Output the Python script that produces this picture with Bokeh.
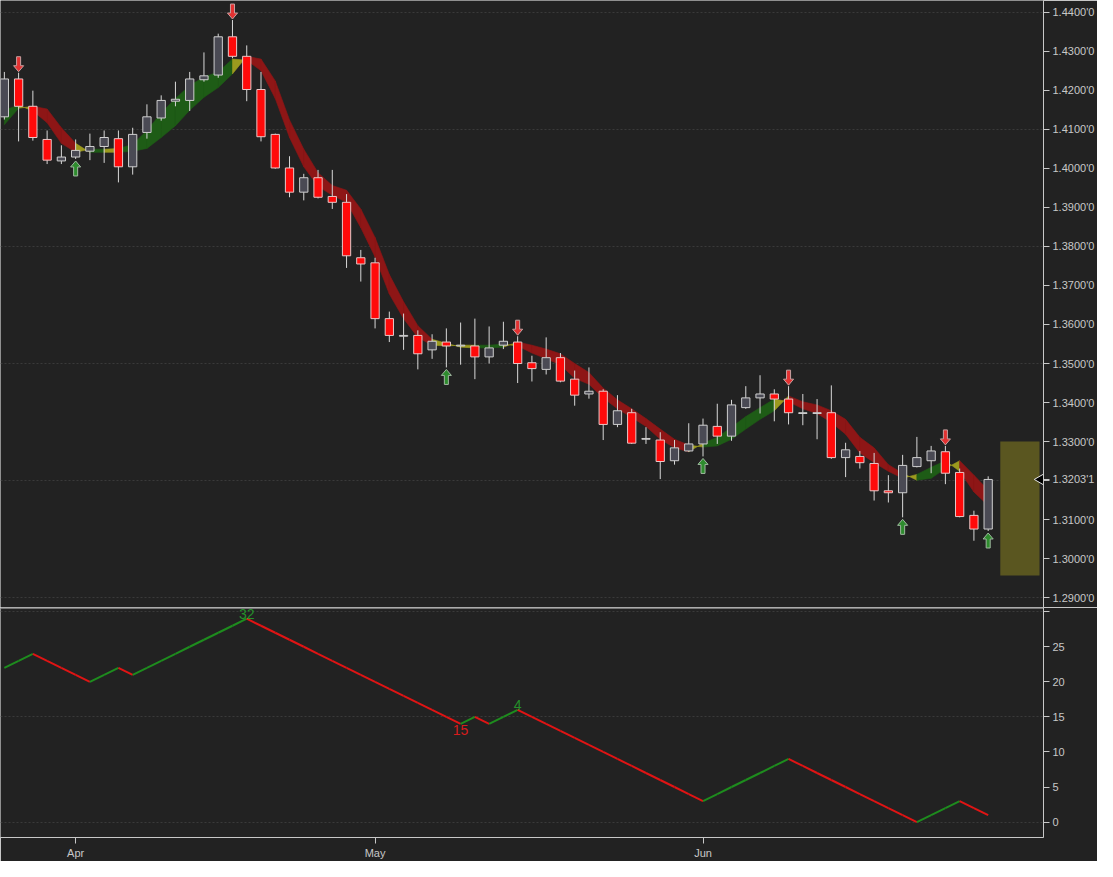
import pandas as pd
from bokeh.plotting import figure
from bokeh.layouts import column
from bokeh.models import FixedTicker, Range1d, Span
from bokeh.embed import file_html
from bokeh.resources import INLINE
from bokeh.core.properties import value

# ---------------- data ----------------
dates = pd.bdate_range("2018-03-26", "2018-06-29")

opens = [1.4132, 1.4229, 1.4159, 1.4074, 1.4019, 1.4029, 1.4044, 1.4056, 1.4076, 1.4004,
         1.4092, 1.4129, 1.4172, 1.4174, 1.4227, 1.4239, 1.4337, 1.4287, 1.4202, 1.4087,
         1.4001, 1.3939, 1.3976, 1.3928, 1.3913, 1.3771, 1.3758, 1.3615, 1.3570, 1.3572,
         1.3535, 1.3555, 1.3545, 1.3545, 1.3517, 1.3547, 1.3555, 1.3502, 1.3485, 1.3515,
         1.3460, 1.3422, 1.3429, 1.3344, 1.3374, 1.3306, 1.3304, 1.3251, 1.3276, 1.3294,
         1.3339, 1.3314, 1.3387, 1.3412, 1.3422, 1.3409, 1.3372, 1.3372, 1.3374, 1.3259,
         1.3262, 1.3244, 1.3174, 1.3169, 1.3236, 1.3251, 1.3274, 1.3221, 1.3111, 1.3076]
highs = [1.4247, 1.4245, 1.4199, 1.4097, 1.4059, 1.4074, 1.4089, 1.4097, 1.4097, 1.4104,
         1.4164, 1.4187, 1.4222, 1.4247, 1.4297, 1.4345, 1.4380, 1.4315, 1.4247, 1.4089,
         1.4031, 1.3986, 1.3996, 1.3996, 1.3934, 1.3791, 1.3771, 1.3633, 1.3628, 1.3585,
         1.3575, 1.3590, 1.3605, 1.3615, 1.3595, 1.3607, 1.3570, 1.3520, 1.3567, 1.3527,
         1.3482, 1.3490, 1.3434, 1.3419, 1.3384, 1.3337, 1.3324, 1.3304, 1.3347, 1.3359,
         1.3397, 1.3407, 1.3442, 1.3470, 1.3434, 1.3442, 1.3422, 1.3409, 1.3444, 1.3297,
         1.3276, 1.3271, 1.3214, 1.3266, 1.3312, 1.3289, 1.3289, 1.3231, 1.3123, 1.3211]
lows = [1.4125, 1.4069, 1.4071, 1.4011, 1.4011, 1.4024, 1.4021, 1.4014, 1.3964, 1.3984,
        1.4076, 1.4122, 1.4159, 1.4147, 1.4222, 1.4232, 1.4282, 1.4172, 1.4069, 1.3999,
        1.3926, 1.3918, 1.3923, 1.3896, 1.3745, 1.3710, 1.3590, 1.3555, 1.3535, 1.3485,
        1.3512, 1.3490, 1.3497, 1.3460, 1.3500, 1.3537, 1.3450, 1.3454, 1.3472, 1.3452,
        1.3392, 1.3410, 1.3304, 1.3337, 1.3294, 1.3294, 1.3204, 1.3241, 1.3274, 1.3262,
        1.3294, 1.3302, 1.3384, 1.3372, 1.3352, 1.3344, 1.3342, 1.3306, 1.3256, 1.3209,
        1.3231, 1.3149, 1.3144, 1.3106, 1.3234, 1.3219, 1.3191, 1.3106, 1.3046, 1.3071]
closes = [1.4229, 1.4159, 1.4079, 1.4021, 1.4029, 1.4046, 1.4056, 1.4079, 1.4004, 1.4087,
          1.4132, 1.4174, 1.4177, 1.4229, 1.4237, 1.4337, 1.4287, 1.4202, 1.4081, 1.4001,
          1.3939, 1.3976, 1.3926, 1.3913, 1.3776, 1.3755, 1.3615, 1.3572, 1.3572, 1.3525,
          1.3557, 1.3545, 1.3547, 1.3517, 1.3540, 1.3557, 1.3500, 1.3487, 1.3515, 1.3455,
          1.3419, 1.3429, 1.3344, 1.3379, 1.3296, 1.3308, 1.3249, 1.3284, 1.3294, 1.3342,
          1.3314, 1.3394, 1.3412, 1.3422, 1.3409, 1.3374, 1.3374, 1.3374, 1.3259, 1.3279,
          1.3246, 1.3174, 1.3169, 1.3239, 1.3259, 1.3276, 1.3219, 1.3108, 1.3076, 1.3203]

# ribbon: fast and slow lines
band_fast = [1.4149, 1.4162, 1.4147, 1.4117, 1.4064, 1.4041, 1.4049, 1.4049, 1.4051, 1.4061,
             1.4097, 1.4142, 1.4179, 1.4212, 1.4234, 1.4247, 1.4280, 1.4277, 1.4250, 1.4179,
             1.4079, 1.4004, 1.3954, 1.3931, 1.3913, 1.3848, 1.3773, 1.3678, 1.3615, 1.3567,
             1.3547, 1.3545, 1.3547, 1.3547, 1.3547, 1.3550, 1.3545, 1.3527, 1.3512, 1.3497,
             1.3462, 1.3447, 1.3412, 1.3384, 1.3362, 1.3339, 1.3306, 1.3284, 1.3274, 1.3296,
             1.3311, 1.3337, 1.3364, 1.3387, 1.3409, 1.3402, 1.3384, 1.3372, 1.3349, 1.3319,
             1.3271, 1.3246, 1.3224, 1.3206, 1.3216, 1.3234, 1.3251, 1.3224, 1.3171, 1.3136]
band_slow = [1.4112, 1.4154, 1.4159, 1.4152, 1.4104, 1.4064, 1.4041, 1.4041, 1.4041, 1.4044,
             1.4051, 1.4079, 1.4109, 1.4149, 1.4182, 1.4207, 1.4242, 1.4287, 1.4280, 1.4224,
             1.4124, 1.4049, 1.3989, 1.3956, 1.3944, 1.3896, 1.3823, 1.3728, 1.3658, 1.3597,
             1.3562, 1.3552, 1.3542, 1.3540, 1.3540, 1.3542, 1.3555, 1.3547, 1.3537, 1.3525,
             1.3500, 1.3477, 1.3437, 1.3407, 1.3384, 1.3359, 1.3332, 1.3306, 1.3291, 1.3286,
             1.3289, 1.3306, 1.3332, 1.3357, 1.3379, 1.3417, 1.3402, 1.3394, 1.3379, 1.3357,
             1.3311, 1.3284, 1.3241, 1.3219, 1.3201, 1.3206, 1.3231, 1.3251, 1.3214, 1.3176]
# trend of each ribbon segment: g = up, r = down, y = transition
band_trend = ("g" "y" "rrr" "y" "g" "y" "gggggggg" "y" "rrrrrrrrrrrrr" "yyy" "gg" "y"
              "rrrrrrrrrrrr" "y" "ggggg" "y" "rrrrrrrr" "y" "gg" "y" "rr")

sell_signals = [1, 16, 36, 55, 66]
buy_signals = [5, 31, 49, 63, 69]

counter = [22, 23, 24, 23, 22, 21, 20, 21, 22, 21, 22, 23, 24, 25, 26, 27, 28, 29, 28, 27,
           26, 25, 24, 23, 22, 21, 20, 19, 18, 17, 16, 15, 14, 15, 14, 15, 16, 15, 14, 13,
           12, 11, 10, 9, 8, 7, 6, 5, 4, 3, 4, 5, 6, 7, 8, 9, 8, 7, 6, 5,
           4, 3, 2, 1, 0, 1, 2, 3, 2, 1]
counter_pivots_up = [17, 36]
counter_pivot_up_text = ["32", "4"]
counter_pivots_dn = [32]
counter_pivot_dn_text = ["15"]

proj_box = {"left": 69.85, "right": 72.6, "top": 1.3300, "bottom": 1.2957}
last_price_text = "1.3203'1"
price_ticks = [round(1.29 + 0.01 * k, 2) for k in range(16)]
price_grid = [1.29, 1.32, 1.35, 1.38, 1.41, 1.44]
counter_ticks = [0, 5, 10, 15, 20, 25, 30]
counter_grid = [0, 15, 30]

# ---------------- style ----------------
BG = "#222222"
AX = "#c8c8c8"
FONT = "Liberation Sans"
GREEN_BAND, RED_BAND, YEL_BAND = "#1e5c16", "#8e1616", "#9c9a1e"
W, H_TOP, H_BOT, RB = 1097, 607, 254, 53
FRAME_W = 1035
x_start, x_end = -0.27, 72.88
p_lo, p_hi = 1.2875, 1.4430
c_lo, c_hi = -2.2, 30.6

n = len(closes)
xs = list(range(n))
dxp = (x_end - x_start) / FRAME_W
dyp = (p_hi - p_lo) / H_TOP


def style_axis(ax):
    ax.axis_line_color = AX
    ax.major_tick_line_color = AX
    ax.minor_tick_line_color = None
    ax.major_tick_out = 6
    ax.major_tick_in = 0
    ax.major_label_text_color = AX
    ax.major_label_text_font = FONT
    ax.major_label_text_font_size = "11px"
    ax.major_label_standoff = 3


top = figure(width=W, height=H_TOP, x_range=Range1d(x_start, x_end), y_range=Range1d(p_lo, p_hi),
             output_backend="svg", toolbar_location=None, x_axis_location=None,
             y_axis_location="right", min_border_left=0, min_border_right=RB,
             min_border_top=0, min_border_bottom=0, background_fill_color=BG,
             border_fill_color=BG, outline_line_color=None)

# ribbon
cmap = {"g": GREEN_BAND, "r": RED_BAND, "y": YEL_BAND}
pxs, pys, pcs = [], [], []
for i in range(n - 1):
    pxs.append([i, i + 1, i + 1, i])
    pys.append([band_fast[i], band_fast[i + 1], band_slow[i + 1], band_slow[i]])
    pcs.append(cmap[band_trend[i]])
top.patches(pxs, pys, fill_color=pcs, line_color=pcs, line_width=0.6)

# candles
up = [c >= o for o, c in zip(opens, closes)]
top.segment(x0=xs, y0=lows, x1=xs, y1=highs, line_color="#d8d8d8", line_width=1)
top.vbar(x=xs, width=0.58, top=[max(o, c) for o, c in zip(opens, closes)],
         bottom=[min(o, c) for o, c in zip(opens, closes)],
         fill_color=["#4a4a54" if u else "#ff0a0a" for u in up],
         line_color=["#cfcfcf" if u else "#e8c8c8" for u in up], line_width=1)

# signal arrows
shape = [(0, 0), (-5, 6), (-2, 6), (-2, 15), (2, 15), (2, 6), (5, 6)]
axs, ays = [], []
for i in sell_signals:
    tip = highs[i] + 1 * dyp
    axs.append([i + dx * dxp for dx, dy in shape])
    ays.append([tip + dy * dyp for dx, dy in shape])
top.patches(axs, ays, fill_color="#e33232", line_color="#c8a0a0", line_width=1)
bxs, bys = [], []
for i in buy_signals:
    tip = lows[i] - 2 * dyp
    bxs.append([i + dx * dxp for dx, dy in shape])
    bys.append([tip - dy * dyp for dx, dy in shape])
top.patches(bxs, bys, fill_color="#2e8c2e", line_color="#a0b8a0", line_width=1)

# projection box
top.quad(left=[proj_box["left"]], right=[proj_box["right"]], top=[proj_box["top"]],
         bottom=[proj_box["bottom"]], fill_color="#5a5620", line_color=None)

# last-price pointer at the axis edge
top.scatter(x=[x_end], y=[closes[-1]], marker="triangle", angle=90, angle_units="deg",
            size=16, fill_color="black", line_color="#e6e6e6", line_width=1)

ya = top.yaxis[0]
style_axis(ya)
ya.ticker = FixedTicker(ticks=price_ticks + [closes[-1]])
overrides = {t: ("" if t == 1.32 else f"{t:.4f}'0") for t in price_ticks}
overrides[closes[-1]] = last_price_text
ya.major_label_overrides = overrides
top.xgrid.visible = False
top.ygrid.ticker = FixedTicker(ticks=price_grid)
top.ygrid.grid_line_color = "#3a3a3a"
top.ygrid.grid_line_dash = "2 2"

# ---------------- lower panel ----------------
bot = figure(width=W, height=H_BOT, x_range=top.x_range, y_range=Range1d(c_lo, c_hi),
             output_backend="svg", toolbar_location=None, y_axis_location="right",
             min_border_left=0, min_border_right=RB, min_border_top=0,
             background_fill_color=BG, border_fill_color=BG, outline_line_color=None)

seg_col = ["#1e8c1e" if counter[i + 1] > counter[i] else "#e01414" for i in range(n - 1)]
bot.segment(x0=xs[:-1], y0=counter[:-1], x1=xs[1:], y1=counter[1:], line_color=seg_col,
            line_width=2)
bot.text(x=counter_pivots_up, y=[counter[i] for i in counter_pivots_up],
         text=counter_pivot_up_text, text_color="#25902a", text_align="center",
         text_baseline="bottom", text_font=value(FONT), text_font_size="14px")
bot.text(x=counter_pivots_dn, y=[counter[i] for i in counter_pivots_dn],
         text=counter_pivot_dn_text, text_color="#d81c1c", text_align="center",
         text_baseline="top", text_font=value(FONT), text_font_size="14px", y_offset=1)

yb = bot.yaxis[0]
style_axis(yb)
yb.ticker = FixedTicker(ticks=counter_ticks)
yb.major_label_overrides = {30: ""}
xb = bot.xaxis[0]
style_axis(xb)
month_idx, month_lab = [], []
for i, d in enumerate(dates):
    if i > 0 and d.month != dates[i - 1].month:
        month_idx.append(i)
        month_lab.append(d.strftime("%b"))
xb.ticker = FixedTicker(ticks=month_idx)
xb.major_label_overrides = dict(zip(month_idx, month_lab))
bot.xgrid.visible = False
bot.ygrid.ticker = FixedTicker(ticks=counter_grid)
bot.ygrid.grid_line_color = "#3a3a3a"
bot.ygrid.grid_line_dash = "2 2"
bot.add_layout(Span(location=c_hi - 0.05, dimension="width", line_color=AX, line_width=1.5))

layout = column(top, bot, spacing=0)
open("out.html", "w").write(file_html(layout, INLINE))
